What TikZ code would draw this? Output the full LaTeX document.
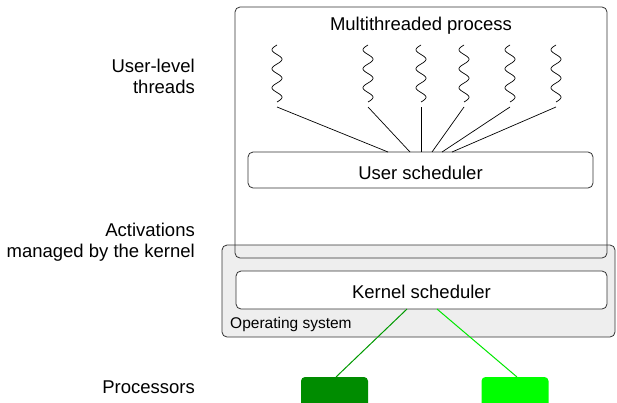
\documentclass[tikz,border=0pt]{standalone}
\usepackage{fontspec}
\setmainfont{Liberation Sans}
\definecolor{osgray}{HTML}{EEEEEE}
\definecolor{edge}{HTML}{333333}
\definecolor{darkgrn}{HTML}{008C00}
\definecolor{brightgrn}{HTML}{00FF00}
\definecolor{darkline}{HTML}{009A00}
\definecolor{brightline}{HTML}{00E800}
\begin{document}
\begin{tikzpicture}[x=1pt,y=-1pt,
  bigfont/.style={font=\fontsize{18.5}{20.5}\selectfont},
  smallfont/.style={font=\fontsize{15.5}{18}\selectfont},
  box/.style={draw=edge, line width=0.8pt, rounded corners=5pt, inner sep=0pt, outer sep=0pt},
  procbox/.style={rounded corners=4pt, inner sep=0pt, outer sep=0pt, minimum width=67pt, minimum height=34pt},
  wire/.style={line width=0.7pt},
  squig/.style={line width=0.7pt}
]
\useasboundingbox (0,0) rectangle (617,402);
\clip (0,0) rectangle (617,402);
\fill[white] (0,0) rectangle (617,402);

% operating system box
\node[box, fill=osgray, minimum width=393pt, minimum height=92pt] (os) at (418.5,291) {};
% process box (outline only)
\node[box, minimum width=372pt, minimum height=251pt] (proc) at (421,132.5) {};
% schedulers
\node[box, fill=white, minimum width=345pt, minimum height=36pt] (us) at (420.5,170) {};
\node[box, fill=white, minimum width=371pt, minimum height=38pt] (ks) at (421.5,290) {};

% texts in boxes
\node[bigfont, anchor=base, inner sep=0pt] (title) at (421,30) {Multithreaded process};
\node[bigfont, anchor=base, inner sep=0pt] (ustext) at (420.5,179.5) {User scheduler};
\node[bigfont, anchor=base, inner sep=0pt] (kstext) at (421.5,298) {Kernel scheduler};
\node[smallfont, anchor=base west, inner sep=0pt] (oslabel) at (230,328) {Operating system};

% left labels
\node[bigfont, anchor=base east, align=right, inner sep=0pt] (lbl1) at (195,93) {User-level\\threads};
\node[bigfont, anchor=base east, align=right, inner sep=0pt] (lbl2) at (195,257) {Activations\\managed by the kernel};
\node[bigfont, anchor=base east, inner sep=0pt] (lbl3) at (195,393) {Processors};

% threads
\foreach \i/\xx/\ux in {1/277/388, 2/368/410, 3/421/421, 4/464/432, 5/510/442, 6/556/452}{
  \draw[squig] plot[variable=\t, domain=0:57, samples=72, smooth] ({\xx - 5*sin(18.947*\t)}, {45+\t});
  \coordinate (t\i) at (\xx,107);
  \coordinate (u\i) at (\ux,152);
  \draw[wire] (t\i) -- (u\i |- us.north);
}

% processors
\node[procbox, fill=darkgrn] (p1) at (334.5,394) {};
\node[procbox, fill=brightgrn] (p2) at (515,394) {};
\coordinate (k1) at (407,311);
\coordinate (k2) at (437,311);
\coordinate (q1) at (336,377);
\coordinate (q2) at (517,377);
\draw[darkline, line width=1pt] (k1 |- ks.south) -- (q1 |- p1.north);
\draw[brightline, line width=1pt] (k2 |- ks.south) -- (q2 |- p2.north);
\end{tikzpicture}
\end{document}
